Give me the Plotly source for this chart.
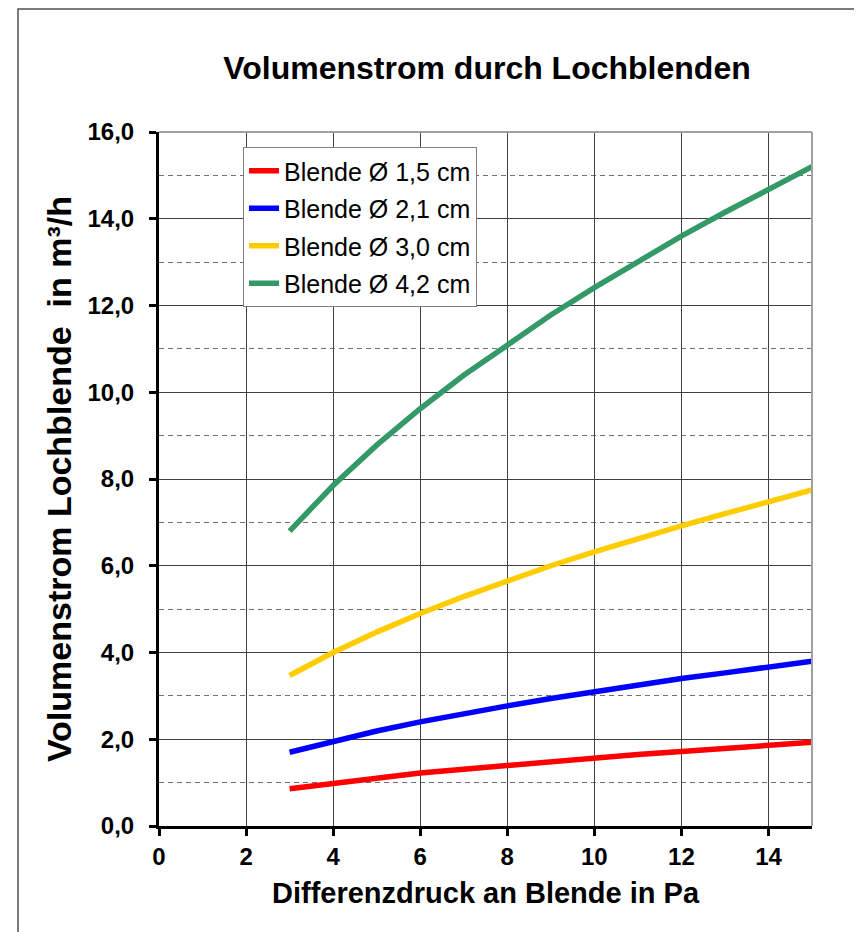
import plotly.graph_objects as go

dp = [3, 4, 5, 6, 7, 8, 9, 10, 11, 12, 13, 14, 15]
v_15 = [0.86, 0.99, 1.11, 1.22, 1.31, 1.40, 1.49, 1.57, 1.65, 1.72, 1.79, 1.86, 1.93]
v_21 = [1.70, 1.96, 2.19, 2.40, 2.60, 2.77, 2.94, 3.10, 3.25, 3.40, 3.53, 3.67, 3.80]
v_30 = [3.47, 4.00, 4.47, 4.90, 5.29, 5.65, 6.00, 6.32, 6.63, 6.92, 7.20, 7.48, 7.75]
v_42 = [6.80, 7.85, 8.78, 9.62, 10.39, 11.10, 11.78, 12.41, 13.02, 13.60, 14.15, 14.69, 15.20]

names = ["Blende Ø 1,5 cm", "Blende Ø 2,1 cm", "Blende Ø 3,0 cm", "Blende Ø 4,2 cm"]
series = [v_15, v_21, v_30, v_42]
colors = ["#FF0000", "#0000FF", "#FFCC00", "#339966"]

FONT = "Liberation Sans, Arial, sans-serif"

W, H = 854, 924
L, R, T, B = 151, 50, 124, 106
PW, PH = W - L - R, H - T - B

fig = go.Figure()
for i, (n, v, c) in enumerate(zip(names, series, colors)):
    fig.add_trace(go.Scatter(x=dp, y=v, name=n, mode="lines",
                             line=dict(color=c, width=5.5),
                             legendgroup=f"g{i}"))

fig.update_layout(
    width=W, height=H,
    paper_bgcolor="white", plot_bgcolor="white",
    margin=dict(l=L, r=R, t=T, b=B),
    separators=",.",
    title=dict(text="<b>Volumenstrom durch Lochblenden</b>",
               font=dict(family=FONT, size=32, color="black"),
               x=479 / W, xanchor="center", y=1 - 60 / H, yanchor="middle"),
    legend=dict(x=(243 - 159) / PW, y=(826 - 147) / PH, xanchor="left", yanchor="top",
                bgcolor="white", bordercolor="#808080", borderwidth=1,
                font=dict(family=FONT, size=25, color="black"),
                traceorder="grouped", tracegroupgap=2, itemwidth=30),
    showlegend=True,
)

fig.update_xaxes(
    range=[0, 15], dtick=2, tick0=0, tickformat="d",
    showline=True, linecolor="black", linewidth=3,
    ticks="outside", ticklen=7, tickwidth=3, tickcolor="black",
    showgrid=True, gridcolor="#404040", gridwidth=1,
    zeroline=False,
    tickfont=dict(family=FONT, size=24, color="black", weight="bold"),
    title=dict(text="<b>Differenzdruck an Blende in Pa</b>",
               font=dict(family=FONT, size=29, color="black"), standoff=14),
)
fig.update_yaxes(
    range=[0, 16], dtick=2, tick0=0, tickformat=".1f",
    showline=True, linecolor="black", linewidth=3,
    ticks="outside", ticklen=7, tickwidth=3, tickcolor="black",
    ticklabelstandoff=10,
    showgrid=True, gridcolor="#404040", gridwidth=1,
    zeroline=False,
    minor=dict(dtick=1, tick0=0, showgrid=True, gridcolor="#707070",
               griddash="5px,4px", gridwidth=1, ticks=""),
    tickfont=dict(family=FONT, size=24, color="black", weight="bold"),
    title=dict(text="<b>Volumenstrom Lochblende  in m³/h</b>",
               font=dict(family=FONT, size=34, color="black"), standoff=6),
)

# plot-area top/right border (gray) and outer chart frame
fig.add_shape(type="line", xref="paper", yref="paper", x0=0, x1=1, y0=1, y1=1,
              line=dict(color="#A0A0A0", width=2))
fig.add_shape(type="line", xref="paper", yref="paper", x0=1, x1=1, y0=0, y1=1,
              line=dict(color="#A0A0A0", width=2))
fig.add_shape(type="rect", xref="paper", yref="paper",
              x0=(10 - L) / PW, x1=1.5, y0=-0.5, y1=(H - B - 1) / PH,
              line=dict(color="#505050", width=1.5), layer="below")

fig.write_html("out.html")
